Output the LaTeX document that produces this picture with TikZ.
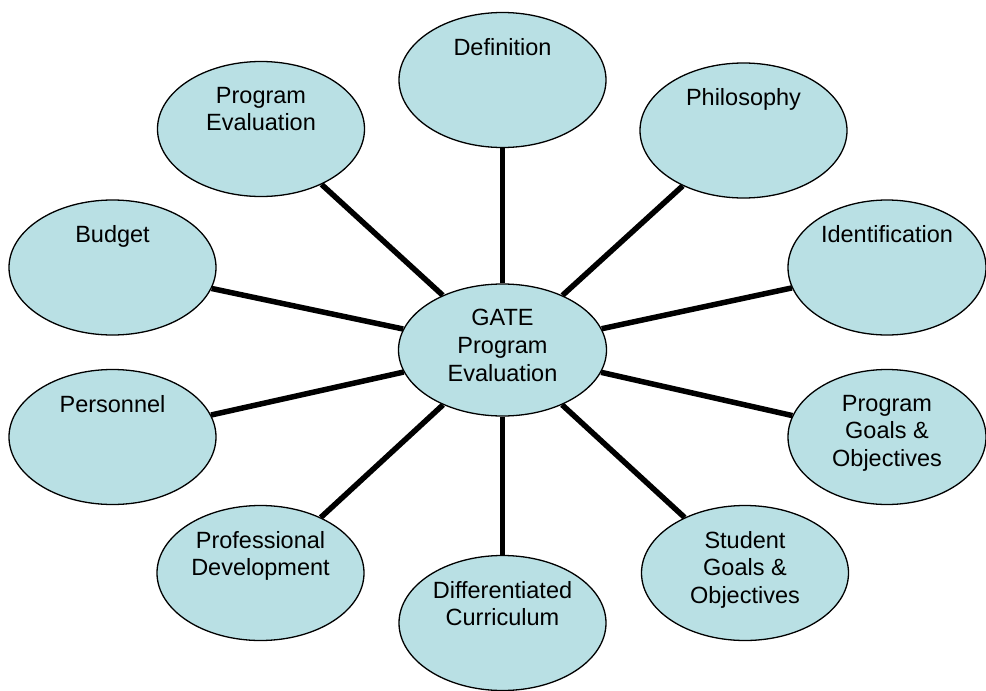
\documentclass[tikz,border=0pt]{standalone}
\usepackage{fontspec}
\setmainfont{Liberation Sans}
\usetikzlibrary{shapes.geometric,backgrounds}
\definecolor{bubble}{RGB}{185,224,228}
\begin{document}
\begin{tikzpicture}[x=1pt,y=-1pt,
  bub/.style={ellipse,draw=black,line width=1.3pt,fill=bubble,minimum width=207pt,minimum height=135pt,inner sep=0pt},
  txt/.style={anchor=north,align=center,inner sep=0pt,font=\fontsize{23.5}{27.6}\selectfont},
  link/.style={line width=5.5pt,black}]
\useasboundingbox (0,0) rectangle (986,691);
% ellipses
\node[bub] (gate) at (502.5,350) [minimum width=208pt,minimum height=132pt] {};
\node[bub] (def) at (502.5,80) {};
\node[bub] (peval) at (261,129) {};
\node[bub] (phil) at (743.5,130.5) {};
\node[bub] (budget) at (112.5,267.5) {};
\node[bub] (ident) at (887,267.5) [minimum width=198pt] {};
\node[bub] (pers) at (112.5,437) {};
\node[bub] (pgoals) at (887,437) [minimum width=198pt] {};
\node[bub] (profdev) at (260.5,573) {};
\node[bub] (sgoals) at (745,573) {};
\node[bub] (diff) at (502.5,623) {};
% texts
\node[txt] (gate-t) at ([yshift=-26pt]gate.north) {GATE\\Program\\Evaluation};
\node[txt] (def-t) at ([yshift=-26pt]def.north) {Definition};
\node[txt] (peval-t) at ([yshift=-26pt]peval.north) {Program\\Evaluation};
\node[txt] (phil-t) at ([yshift=-26pt]phil.north) {Philosophy};
\node[txt] (budget-t) at ([yshift=-26pt]budget.north) {Budget};
\node[txt] (ident-t) at ([yshift=-26pt]ident.north) {Identification};
\node[txt] (pers-t) at ([yshift=-26pt]pers.north) {Personnel};
\node[txt] (pgoals-t) at ([yshift=-26pt]pgoals.north) {Program\\Goals \&\\Objectives};
\node[txt] (profdev-t) at ([yshift=-26pt]profdev.north) {Professional\\Development};
\node[txt] (sgoals-t) at ([yshift=-26pt]sgoals.north) {Student\\Goals \&\\Objectives};
\node[txt] (diff-t) at ([yshift=-26pt]diff.north) {Differentiated\\Curriculum};
% connectors
\begin{pgfonlayer}{background}
\foreach \n in {def,peval,phil,budget,ident,pers,pgoals,profdev,sgoals,diff}
  \draw[link] (gate) -- (\n);
\end{pgfonlayer}
\end{tikzpicture}
\end{document}
